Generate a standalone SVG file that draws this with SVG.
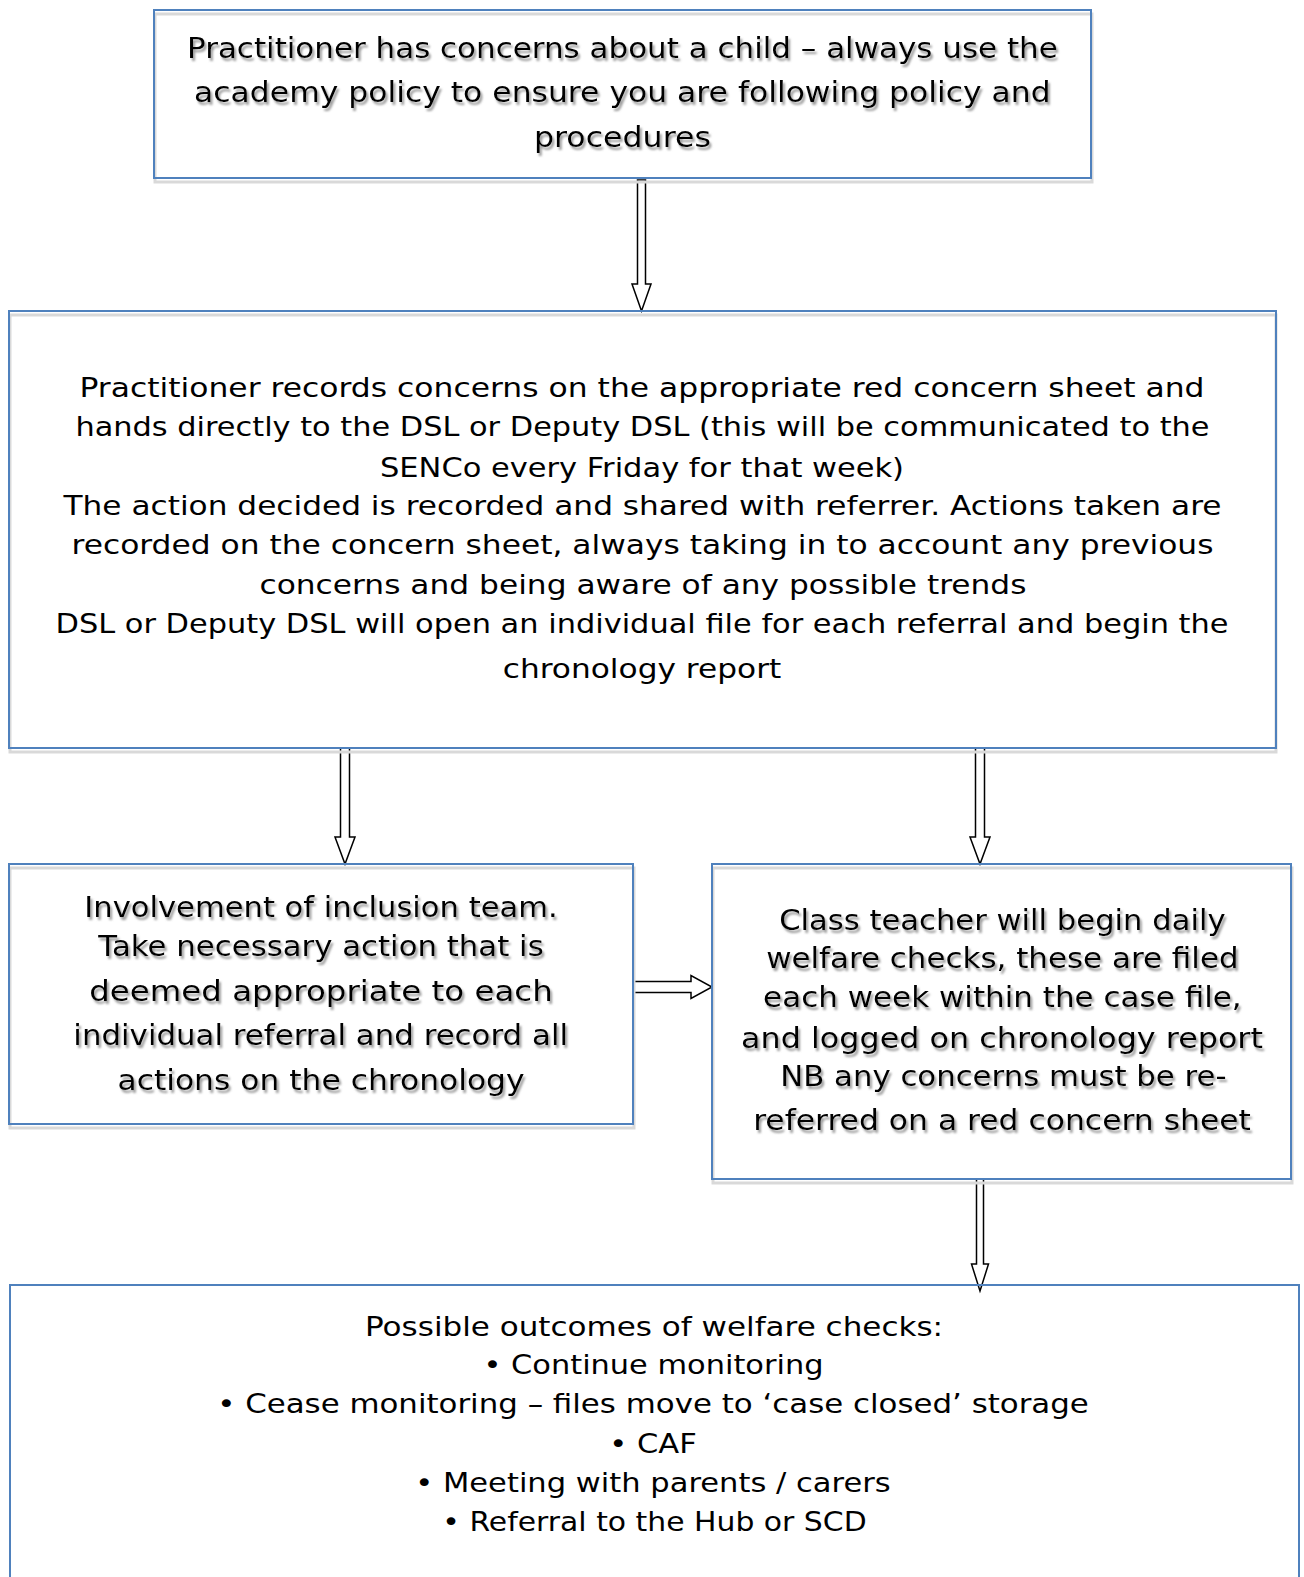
<svg xmlns="http://www.w3.org/2000/svg" width="1304" height="1577" viewBox="0 0 1304 1577">
<defs>
<filter id="ts" x="-5%" y="-30%" width="110%" height="170%">
<feDropShadow dx="2" dy="3" stdDeviation="0.8" flood-color="#8c8c8c" flood-opacity="0.85"/>
</filter>
</defs>
<style>
.box{fill:none;stroke:#4f81bd;stroke-width:2}
.shd{fill:none;stroke:#d9d9d9;stroke-width:3}
.t{font-family:"DejaVu Sans","Liberation Sans",sans-serif;fill:#000;text-anchor:middle}
.arr{fill:#fff;stroke:#000;stroke-width:1.5;stroke-linejoin:miter}
</style>
<rect width="1304" height="1577" fill="#fff"/>

<g id="connectors">
<path class="arr" d="M637.5,180 H645.5 V284 H651 L641.5,311 L632,284 H637.5 Z"/>
<path class="arr" d="M340.5,748 H349.5 V837 H355 L345,864 L335,837 H340.5 Z"/>
<path class="arr" d="M975.5,748 H984.5 V837 H990 L980,864 L970,837 H975.5 Z"/>
<path class="arr" d="M633,981.5 H691 V975.5 L712,987 L691,998.5 V992.5 H633 Z"/>
<path class="arr" d="M976.5,1179 H983.5 V1264 H988.5 L980,1291 L971.5,1264 H976.5 Z"/>
</g>

<g id="node-1">
<rect class="shd" x="155" y="14" width="937" height="168"/>
<rect class="box" x="154" y="10" width="937" height="168"/>
<g class="t" font-size="29" filter="url(#ts)">
<text x="622.4" y="58" textLength="870.7" lengthAdjust="spacingAndGlyphs">Practitioner has concerns about a child – always use the</text>
<text x="622.4" y="102" textLength="856.6" lengthAdjust="spacingAndGlyphs">academy policy to ensure you are following policy and</text>
<text x="622.4" y="147" textLength="177" lengthAdjust="spacingAndGlyphs">procedures</text>
</g>
</g>

<g id="node-2">
<rect class="shd" x="10" y="315" width="1266" height="437"/>
<rect class="box" x="9" y="311" width="1267" height="437"/>
<g class="t" font-size="27">
<text x="642" y="397" textLength="1125" lengthAdjust="spacingAndGlyphs">Practitioner records concerns on the appropriate red concern sheet and</text>
<text x="642.5" y="436" textLength="1134" lengthAdjust="spacingAndGlyphs">hands directly to the DSL or Deputy DSL (this will be communicated to the</text>
<text x="642" y="476.5" textLength="524" lengthAdjust="spacingAndGlyphs">SENCo every Friday for that week)</text>
<text x="642.5" y="515" textLength="1158" lengthAdjust="spacingAndGlyphs">The action decided is recorded and shared with referrer. Actions taken are</text>
<text x="642.5" y="554" textLength="1142" lengthAdjust="spacingAndGlyphs">recorded on the concern sheet, always taking in to account any previous</text>
<text x="643" y="594" textLength="767" lengthAdjust="spacingAndGlyphs">concerns and being aware of any possible trends</text>
<text x="642" y="633" textLength="1173" lengthAdjust="spacingAndGlyphs">DSL or Deputy DSL will open an individual file for each referral and begin the</text>
<text x="642" y="677.5" textLength="278.5" lengthAdjust="spacingAndGlyphs">chronology report</text>
</g>
</g>

<g id="node-3">
<rect class="shd" x="10" y="868" width="624" height="260"/>
<rect class="box" x="9" y="864" width="624" height="260"/>
<g class="t" font-size="29" filter="url(#ts)">
<text x="321" y="917" textLength="473.5" lengthAdjust="spacingAndGlyphs">Involvement of inclusion team.</text>
<text x="321" y="956" textLength="445.4" lengthAdjust="spacingAndGlyphs">Take necessary action that is</text>
<text x="321" y="1001" textLength="463.5" lengthAdjust="spacingAndGlyphs">deemed appropriate to each</text>
<text x="320.7" y="1045" textLength="494.7" lengthAdjust="spacingAndGlyphs">individual referral and record all</text>
<text x="321" y="1090" textLength="407" lengthAdjust="spacingAndGlyphs">actions on the chronology</text>
</g>
</g>

<g id="node-4">
<rect class="shd" x="713" y="868" width="579" height="315"/>
<rect class="box" x="712" y="864" width="579" height="315"/>
<g class="t" font-size="29" filter="url(#ts)">
<text x="1002.4" y="930" textLength="446.4" lengthAdjust="spacingAndGlyphs">Class teacher will begin daily</text>
<text x="1002.4" y="968" textLength="472.5" lengthAdjust="spacingAndGlyphs">welfare checks, these are filed</text>
<text x="1002.4" y="1007" textLength="478.6" lengthAdjust="spacingAndGlyphs">each week within the case file,</text>
<text x="1002" y="1047.6" textLength="521.8" lengthAdjust="spacingAndGlyphs">and logged on chronology report</text>
<text x="1003.4" y="1086" textLength="446.4" lengthAdjust="spacingAndGlyphs">NB any concerns must be re-</text>
<text x="1002" y="1130" textLength="497.7" lengthAdjust="spacingAndGlyphs">referred on a red concern sheet</text>
</g>
</g>

<g id="node-5">
<rect class="box" x="10" y="1285" width="1289" height="310"/>
<g class="t" font-size="27">
<text x="654" y="1336" textLength="578" lengthAdjust="spacingAndGlyphs">Possible outcomes of welfare checks:</text>
<text x="653.5" y="1374" textLength="340" lengthAdjust="spacingAndGlyphs">• Continue monitoring</text>
<text x="653" y="1412.5" textLength="871.7" lengthAdjust="spacingAndGlyphs">• Cease monitoring – files move to ‘case closed’ storage</text>
<text x="653" y="1453" textLength="87.5" lengthAdjust="spacingAndGlyphs">• CAF</text>
<text x="653" y="1492" textLength="475.5" lengthAdjust="spacingAndGlyphs">• Meeting with parents / carers</text>
<text x="654.5" y="1531" textLength="424.3" lengthAdjust="spacingAndGlyphs">• Referral to the Hub or SCD</text>
</g>
</g>
</svg>
